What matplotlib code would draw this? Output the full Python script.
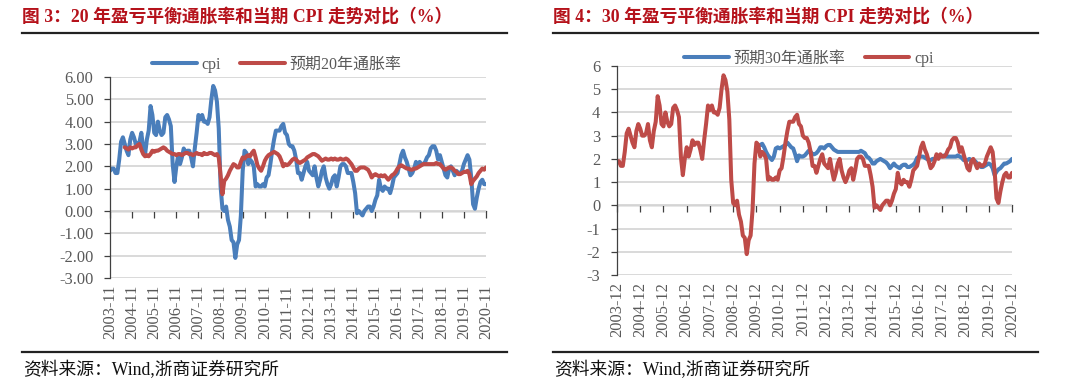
import numpy as np
import matplotlib
matplotlib.use('Agg')
import matplotlib.pyplot as plt
from matplotlib.lines import Line2D

plt.rcParams['font.family'] = ['Liberation Serif', 'Noto Sans CJK SC', 'DejaVu Sans']

# ---------------- data ----------------
# CPI YoY (%), monthly, 2003-11 .. 2020-12
cpi = [1.8, 1.9,
       1.9, 1.7, 1.7, 2.3, 3.1, 3.3, 3.0, 2.7, 2.5, 3.2, 3.5, 3.3,
       3.0, 3.0, 3.1, 3.5, 2.8, 2.5, 3.2, 3.6, 4.7, 4.3, 3.5, 3.4,
       4.0, 3.6, 3.4, 3.5, 4.2, 4.3, 4.1, 3.8, 2.1, 1.3, 2.0, 2.5,
       2.1, 2.4, 2.8, 2.6, 2.7, 2.7, 2.4, 2.0, 2.8, 3.5, 4.3, 4.1,
       4.3, 4.0, 4.0, 3.9, 4.2, 5.0, 5.6, 5.4, 4.9, 3.7, 1.1, 0.1,
       0.0, 0.2, -0.4, -0.7, -1.3, -1.4, -2.1, -1.5, -1.3, -0.2, 1.8, 2.7,
       2.6, 2.1, 2.3, 2.2, 2.0, 1.1, 1.2, 1.1, 1.1, 1.2, 1.1, 1.5,
       1.6, 2.1, 2.7, 3.2, 3.6, 3.6, 3.6, 3.8, 3.9, 3.5, 3.4, 3.0,
       2.9, 2.9, 2.7, 2.3, 1.7, 1.7, 1.4, 1.7, 2.0, 2.2, 1.8, 1.7,
       1.6, 2.0, 1.5, 1.1, 1.4, 1.8, 2.0, 1.5, 1.2, 1.0, 1.2, 1.5,
       1.6, 1.1, 1.5, 2.0, 2.1, 2.1, 2.0, 1.7, 1.7, 1.7, 1.3, 0.8,
       -0.1, 0.0, -0.1, -0.2, 0.0, 0.1, 0.2, 0.2, 0.0, 0.2, 0.5, 0.7,
       1.4, 1.0, 0.9, 1.1, 1.0, 1.0, 0.8, 1.1, 1.5, 1.6, 1.7, 2.1,
       2.5, 2.7, 2.4, 2.2, 1.9, 1.6, 1.7, 1.9, 2.2, 2.0, 2.2, 2.1,
       2.1, 2.2, 2.4, 2.5, 2.8, 2.9, 2.9, 2.7, 2.3, 2.5, 2.2, 1.9,
       1.6, 1.5, 1.9, 2.0, 1.8, 1.6, 1.8, 1.7, 1.7, 1.8, 2.1, 2.3,
       2.5, 2.3, 1.5, 0.3, 0.1, 0.6, 1.0, 1.3, 1.4, 1.2, 1.2, 1.4]

# 20-year breakeven inflation (%), monthly, 2004-07 .. 2020-11
be20 = [2.85, 2.8, 2.75, 2.85, 2.8, 2.85,
        2.85, 2.95, 3.0, 2.75, 2.55, 2.45, 2.5, 2.45, 2.55, 2.7, 2.65, 2.7,
        2.7, 2.75, 2.8, 2.85, 2.8, 2.7, 2.65, 2.6, 2.55, 2.55, 2.5, 2.55,
        2.55, 2.5, 2.55, 2.6, 2.6, 2.55, 2.55, 2.5, 2.55, 2.6, 2.55, 2.55,
        2.5, 2.6, 2.55, 2.55, 2.6, 2.6, 2.55, 2.5, 2.55, 2.4, 1.6, 0.75,
        1.35, 1.45, 1.6, 1.8, 1.95, 2.1, 2.05, 1.95, 1.95, 2.2, 2.4, 2.35,
        2.45, 2.5, 2.45, 2.6, 2.7, 2.4, 2.05, 1.9, 1.8, 2.0, 2.25, 2.4,
        2.5, 2.55, 2.6, 2.65, 2.6, 2.55, 2.45, 2.25, 2.0, 2.1, 2.05, 2.1,
        2.2, 2.3, 2.35, 2.3, 2.2, 2.15, 2.2, 2.25, 2.3, 2.4, 2.45, 2.5,
        2.55, 2.55, 2.5, 2.45, 2.35, 2.25, 2.3, 2.35, 2.3, 2.3, 2.35, 2.3,
        2.35, 2.3, 2.3, 2.35, 2.3, 2.3, 2.35, 2.3, 2.2, 2.1, 1.95, 1.8,
        1.8, 1.9, 1.95, 1.95, 1.95, 1.9, 1.85, 1.7, 1.5, 1.6, 1.65, 1.6,
        1.55, 1.6, 1.55, 1.6, 1.5, 1.4, 1.5, 1.6, 1.65, 1.75, 1.9, 2.0,
        2.05, 2.0, 1.95, 1.9, 1.9, 1.85, 1.85, 1.9, 1.9, 1.95, 2.0, 2.05,
        2.1, 2.1, 2.1, 2.1, 2.1, 2.1, 2.1, 2.15, 2.1, 2.1, 2.0, 1.9,
        1.85, 1.9, 1.95, 1.95, 1.9, 1.8, 1.75, 1.65, 1.65, 1.7, 1.75, 1.75,
        1.8, 1.65, 1.2, 1.35, 1.45, 1.55, 1.7, 1.8, 1.9, 1.85, 1.95]

# 30-year breakeven inflation (%), monthly, 2010-02 .. 2020-12
be30 = [2.6, 2.65, 2.5, 2.3, 2.15, 2.05, 1.95, 2.1, 2.45, 2.5, 2.45,
        2.5, 2.55, 2.6, 2.7, 2.6, 2.5, 2.45, 2.2, 1.9, 2.15, 2.1, 2.1,
        2.15, 2.25, 2.35, 2.3, 2.2, 2.2, 2.25, 2.35, 2.5, 2.5, 2.45, 2.55,
        2.6, 2.6, 2.5, 2.4, 2.35, 2.3, 2.3, 2.3, 2.3, 2.3, 2.3, 2.3,
        2.3, 2.3, 2.3, 2.3, 2.3, 2.35, 2.3, 2.25, 2.1, 2.05, 1.95, 1.8,
        1.8, 1.9, 1.95, 2.0, 1.95, 1.9, 1.85, 1.75, 1.6, 1.7, 1.8, 1.7,
        1.65, 1.6, 1.7, 1.75, 1.75, 1.65, 1.65, 1.7, 1.75, 1.85, 2.05, 2.1,
        2.1, 2.1, 2.05, 2.0, 1.95, 1.95, 2.0, 2.0, 2.05, 2.1, 2.1, 2.1,
        2.15, 2.1, 2.1, 2.1, 2.1, 2.1, 2.1, 2.15, 2.1, 2.05, 1.95, 1.95,
        1.95, 2.0, 1.95, 1.95, 1.9, 1.8, 1.75, 1.65, 1.65, 1.7, 1.75, 1.8,
        1.75, 1.6, 1.3, 1.45, 1.55, 1.6, 1.7, 1.8, 1.8, 1.85, 1.9, 2.0]

left_labels = [f'{y}-11' for y in range(2003, 2021)]
right_labels = [f'{y}-12' for y in range(2003, 2021)]
left_title = '图 3：20 年盈亏平衡通胀率和当期 CPI 走势对比（%）'
right_title = '图 4：30 年盈亏平衡通胀率和当期 CPI 走势对比（%）'
source = '资料来源：Wind,浙商证券研究所'
left_names = ['cpi', '预期20年通胀率']
right_names = ['预期30年通胀率', 'cpi']

BLUE = '#4A7EBB'
RED = '#BE4B48'
TXT = '#595959'
TITLE_C = '#B5121B'

W, H = 1080, 390
fig = plt.figure(figsize=(W / 100, H / 100), dpi=100)


def px_axes(x0, y0, x1, y1):
    return fig.add_axes([x0 / W, 1 - y1 / H, (x1 - x0) / W, (y1 - y0) / H])


def style(ax, labels, fmt):
    n = 12 * (len(labels) - 1)
    ax.set_xlim(0, n)
    ax.set_ylim(-3, 6)
    ax.set_yticks(range(-3, 7))
    ax.set_yticklabels([fmt.format(v) for v in range(-3, 7)])
    ax.grid(axis='y', color='#D9D9D9', lw=1.4)
    ax.set_axisbelow(True)
    for s in ('top', 'right', 'bottom'):
        ax.spines[s].set_visible(False)
    ax.spines['left'].set_color('#404040')
    ax.spines['left'].set_linewidth(0.9)
    ticks = np.arange(0, n + 1, 12)
    ax.set_xticks(ticks)
    ax.set_xticklabels(labels, rotation=90, color=TXT, fontsize=11.8)
    ax.tick_params(axis='x', length=0, pad=5)
    ax.tick_params(axis='y', length=4, color='#404040', labelcolor=TXT,
                   labelsize=11.8, width=0.9, pad=8)
    sec = ax.secondary_xaxis(1 / 3)
    sec.set_xticks(ticks)
    sec.set_xticklabels([])
    sec.tick_params(length=5, color='#404040', width=0.9)
    for s in sec.spines.values():
        s.set_color('#404040')
        s.set_linewidth(0.9)


# ---------- left chart ----------
axL = px_axes(110, 77, 486, 278)
style(axL, left_labels, '{:.2f}')
xL = np.arange(12 * (len(left_labels) - 1) + 1)
hl1, = axL.plot(xL, cpi[:len(xL)], color=BLUE, lw=2.9, solid_capstyle='round')
off20 = 8
hl2, = axL.plot(np.arange(len(be20)) + off20, be20, color=RED, lw=2.9,
                solid_capstyle='round')
fig.legend([hl1, hl2], left_names, loc='center', bbox_to_anchor=(277 / W, 1 - 65 / H),
           ncol=2, frameon=False, handlelength=2.8, handletextpad=0.3,
           columnspacing=1.2, fontsize=11.5, labelcolor=TXT)

# ---------- right chart ----------
axR = px_axes(617, 66, 1012, 275)
style(axR, right_labels, '{:d}')
xR = np.arange(12 * (len(right_labels) - 1) + 1)
off30 = 74
hr1, = axR.plot(np.arange(len(be30)) + off30, be30, color=BLUE, lw=2.9,
                solid_capstyle='round')
hr2, = axR.plot(xR, cpi[1:1 + len(xR)], color=RED, lw=2.9, solid_capstyle='round')
fig.legend([hr1, hr2], right_names, loc='center', bbox_to_anchor=(809 / W, 1 - 59 / H),
           ncol=2, frameon=False, handlelength=2.8, handletextpad=0.3,
           columnspacing=1.2, fontsize=11.5, labelcolor=TXT)

# ---------- titles, rules, source ----------
for x0, x1, title in ((22, 507, left_title), (553, 1038, right_title)):
    fig.text(x0 / W, 1 - 17 / H, title, fontsize=12.8, fontweight='bold',
             color=TITLE_C, va='center', ha='left')
    fig.add_artist(Line2D([x0 / W, x1 / W], [1 - 33 / H] * 2, color='#222222', lw=1.6))
    fig.add_artist(Line2D([x0 / W, x1 / W], [1 - 352 / H] * 2, color='#222222', lw=1.6))
    fig.text((x0 + 1) / W, 1 - 370 / H, source, fontsize=12.8, color='#111111',
             va='center', ha='left')

fig.savefig('out.png', dpi=100)
